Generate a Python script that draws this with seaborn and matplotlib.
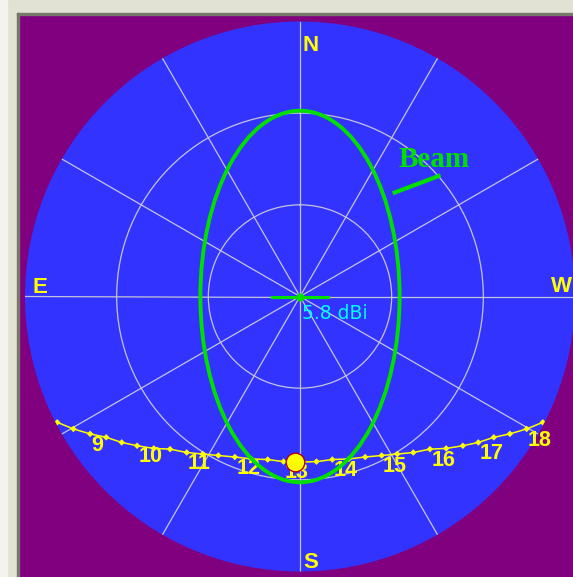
import numpy as np
import matplotlib
matplotlib.use("Agg")
import matplotlib.pyplot as plt
from matplotlib.patches import Ellipse, Rectangle
from matplotlib.lines import Line2D
import seaborn as sns

# sun path: time, azimuth (deg, N=0, E=90) and zenith distance (deg)
times = ['08:20', '08:40', '09:00', '09:20', '09:40', '10:00', '10:20', '10:40',
         '11:00', '11:20', '11:40', '12:00', '12:20', '12:40', '13:00', '13:20',
         '13:40', '14:00', '14:20', '14:40', '15:00', '15:20', '15:40', '16:00',
         '16:20', '16:40', '17:00', '17:20', '17:40', '18:00', '18:20']
sun_az = [117.4, 120.3, 123.2, 126.0, 129.3, 132.5, 136.1, 139.6,
          144.0, 148.3, 152.8, 157.9, 163.3, 168.8, 174.3, 180.0,
          185.7, 191.2, 196.7, 202.1, 207.2, 211.7, 216.0, 220.4,
          223.9, 227.5, 230.7, 234.0, 236.8, 239.7, 242.6]
sun_zen = [89.5, 85.9, 82.1, 78.4, 75.4, 72.3, 69.0, 65.6,
           63.1, 60.6, 58.5, 56.7, 55.5, 54.4, 54.3, 54.2,
           54.3, 54.4, 55.5, 56.7, 58.5, 60.6, 63.1, 65.6,
           69.0, 72.3, 75.4, 78.4, 82.1, 85.9, 89.5]
sun_now_az = 178.3
sun_now_zen = 54.3

# antenna beam (half widths, deg) and gain
beam_ew = 32.6
beam_ns = 60.8
gain_text = '5.8 dBi'

compass = ['N', 'E', 'W', 'S']

blue = '#3333ff'
purple = '#800080'
yellow = '#ffff00'
green = '#00e000'
gridc = '#c4c4d8'
narrow = ['Liberation Sans Narrow', 'Liberation Sans', 'DejaVu Sans']

fig = plt.figure(figsize=(5.73, 5.77), dpi=100, facecolor=purple)

# window frame
fig.patches.extend([
    Rectangle((0, 564 / 577), 1, 13 / 577, transform=fig.transFigure, color='#e2e2d4', zorder=0),
    Rectangle((0, 0), 17 / 573, 1, transform=fig.transFigure, color='#e2e2d4', zorder=0),
    Rectangle((0, 0), 7 / 573, 1, transform=fig.transFigure, color='#f4f4ee', zorder=0),
    Rectangle((17 / 573, 562 / 577), 1, 2 / 577, transform=fig.transFigure, color='#77776a', zorder=1),
    Rectangle((17 / 573, 0), 2 / 573, 564 / 577, transform=fig.transFigure, color='#77776a', zorder=1),
])

ax = fig.add_axes([25 / 573, 5.5 / 577, 550 / 573, 550 / 577], projection='polar')
ax.set_facecolor(blue)
ax.set_theta_zero_location('N')
ax.set_theta_direction(1)
ax.set_rlim(0, 90)
ax.set_rticks([30, 60])
ax.set_yticklabels([])
ax.set_xticks(np.radians(np.arange(0, 360, 30)))
ax.set_xticklabels([])
ax.tick_params(length=0)
ax.grid(True, color=gridc, lw=0.9)
ax.spines['polar'].set_visible(False)
ax.set_axisbelow(True)

# sun path
th = np.radians(sun_az)
sns.lineplot(x=th, y=sun_zen, ax=ax, sort=False, color=yellow, lw=1.1, zorder=3)
sns.scatterplot(x=th, y=sun_zen, ax=ax, marker='D', s=11, color=yellow,
                edgecolor='none', zorder=3)
for t, a, z in zip(times, th, sun_zen):
    if t.endswith(':00'):
        ax.annotate(str(int(t[:2])), xy=(a, z), xytext=(1.0, -0.5),
                    textcoords='offset points', ha='left', va='top',
                    color=yellow, fontsize=15.5, fontweight='bold',
                    family=narrow, zorder=3)

# antenna beam, drawn in cartesian units of the radial axis
cart = ax.transProjectionAffine + ax.transWedge + ax.transAxes
ax.add_patch(Ellipse((0, 0), 2 * beam_ew, 2 * beam_ns, transform=cart,
                     fill=False, ec=green, lw=2.8, zorder=4))
ax.plot([-9.2, 9.2], [0, 0], transform=cart, color=green, lw=2.2, zorder=4)
ax.plot([0], [0], 'o', transform=cart, color=green, ms=5, zorder=4)

sns.scatterplot(x=[np.radians(sun_now_az)], y=[sun_now_zen], ax=ax, s=180,
                color=yellow, edgecolor='#b00020', linewidth=1, zorder=5)

ax.set_xlabel('')
ax.set_ylabel('')

ax.text(0.503, 0.486, gain_text, transform=ax.transAxes, ha='left', va='top',
        color='#00ffff', fontsize=13.5, zorder=6)

ax.text(0.680, 0.736, 'Beam', transform=ax.transAxes, ha='left', va='baseline',
        color=green, fontsize=21, fontweight='bold', family='Liberation Serif')
ax.add_line(Line2D([0.672, 0.752], [0.689, 0.719], transform=ax.transAxes,
                   color=green, lw=3, clip_on=False))

pos = {'N': (0.520, 0.9464), 'E': (0.0264, 0.5064),
       'W': (0.976, 0.5082), 'S': (0.519, 0.0064)}
for c in compass:
    ax.text(pos[c][0], pos[c][1], c, transform=ax.transAxes, ha='center',
            va='baseline', color=yellow, fontsize=16, fontweight='bold',
            family=narrow, zorder=6)

fig.savefig('out.png', dpi=100, facecolor=purple)
